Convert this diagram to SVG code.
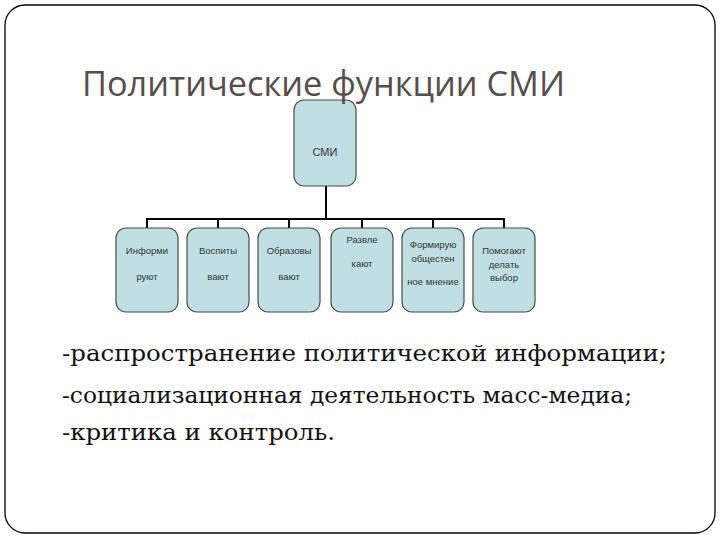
<svg xmlns="http://www.w3.org/2000/svg" width="720" height="540" viewBox="0 0 720 540">
<style>
.frame{fill:#fff;stroke:#000;stroke-width:1.3}
.box{fill:#c0dfe3;stroke:#4a4a4a;stroke-width:1.2}
.lbl{font-family:"Liberation Sans",Arial,sans-serif;font-size:9.5px;fill:#333;text-anchor:middle}
.conn{stroke:#000;stroke-width:2;fill:none}
.title{font-family:"Open Sans",sans-serif;font-size:34px;fill:#574d4d}
.body{font-family:"DejaVu Serif",serif;font-size:22px;fill:#111}
</style>
<rect class="frame" x="5" y="5" width="710" height="528" rx="20"/>
<g id="connectors">
<path class="conn" d="M326 186V219M146 219H505M147 218V228M218 218V228M289 218V228M362 218V228M433 218V228M504 218V228"/>
</g>
<g id="node-smi"><rect class="box" x="294" y="100" width="62" height="86" rx="10"/><text class="lbl" x="325" y="156" style="font-size:11px">СМИ</text></g>
<g id="node-1"><rect class="box" x="116" y="228" width="62" height="84" rx="10"/><text class="lbl" x="147" y="254">Информи</text><text class="lbl" x="147" y="280">руют</text></g>
<g id="node-2"><rect class="box" x="187" y="228" width="62" height="84" rx="10"/><text class="lbl" x="218" y="254">Воспиты</text><text class="lbl" x="218" y="280">вают</text></g>
<g id="node-3"><rect class="box" x="258" y="228" width="62" height="84" rx="10"/><text class="lbl" x="289" y="254">Образовы</text><text class="lbl" x="289" y="280">вают</text></g>
<g id="node-4"><rect class="box" x="331" y="228" width="62" height="84" rx="10"/><text class="lbl" x="362" y="243">Развле</text><text class="lbl" x="362" y="267">кают</text></g>
<g id="node-5"><rect class="box" x="402" y="228" width="62" height="84" rx="10"/><text class="lbl" x="433" y="248">Формирую</text><text class="lbl" x="433" y="262">общестен</text><text class="lbl" x="433" y="285">ное мнение</text></g>
<g id="node-6"><rect class="box" x="473" y="228" width="62" height="84" rx="10"/><text class="lbl" x="504" y="254">Помогают</text><text class="lbl" x="504" y="268">делать</text><text class="lbl" x="504" y="281">выбор</text></g>
<text class="title" x="82" y="96" textLength="483" lengthAdjust="spacingAndGlyphs">Политические функции СМИ</text>
<text class="body" x="62" y="361" textLength="605" lengthAdjust="spacingAndGlyphs">-распространение политической информации;</text>
<text class="body" x="62" y="403" textLength="570" lengthAdjust="spacingAndGlyphs">-социализационная деятельность масс-медиа;</text>
<text class="body" x="62" y="440" textLength="273" lengthAdjust="spacingAndGlyphs">-критика и контроль.</text>
</svg>
